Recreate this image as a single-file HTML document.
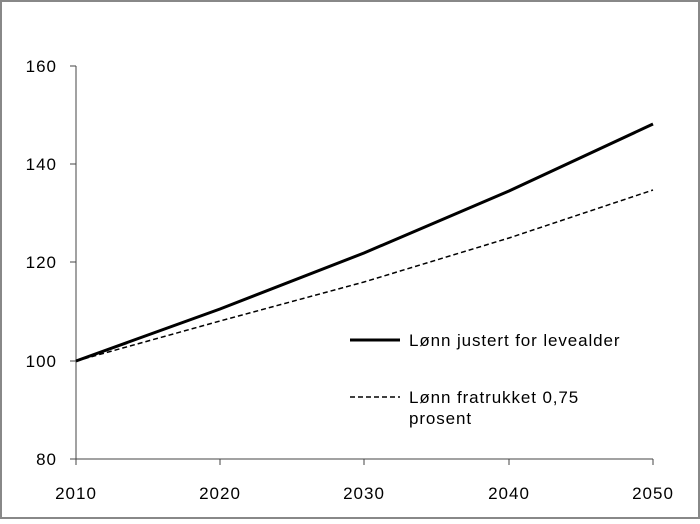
<!DOCTYPE html>
<html><head><style>
html,body{margin:0;padding:0;background:#fff}
body{width:700px;height:519px;overflow:hidden}
</style></head><body>
<svg width="700" height="519" xmlns="http://www.w3.org/2000/svg" font-family="Liberation Sans, sans-serif">
<rect x="1" y="1" width="698" height="517" fill="#fff" stroke="#888" stroke-width="2"/>
<g stroke="#444" stroke-width="1">
<line x1="76" y1="66" x2="76" y2="459"/>
<line x1="76" y1="459" x2="653" y2="459"/>
<line x1="70" y1="66" x2="76" y2="66"/>
<line x1="70" y1="164" x2="76" y2="164"/>
<line x1="70" y1="262" x2="76" y2="262"/>
<line x1="70" y1="361" x2="76" y2="361"/>
<line x1="70" y1="459" x2="76" y2="459"/>
<line x1="76" y1="459" x2="76" y2="465"/>
<line x1="220" y1="459" x2="220" y2="465"/>
<line x1="364" y1="459" x2="364" y2="465"/>
<line x1="509" y1="459" x2="509" y2="465"/>
<line x1="653" y1="459" x2="653" y2="465"/>
</g>
<g font-size="17" fill="#000" text-anchor="end" letter-spacing="1">
<text x="57" y="72">160</text>
<text x="57" y="170">140</text>
<text x="57" y="268">120</text>
<text x="57" y="367">100</text>
<text x="57" y="465">80</text>
</g>
<g font-size="17" fill="#000" text-anchor="middle" letter-spacing="1">
<text x="76" y="499">2010</text>
<text x="220" y="499">2020</text>
<text x="364" y="499">2030</text>
<text x="509" y="499">2040</text>
<text x="653" y="499">2050</text>
</g>
<polyline points="76,361 220,309 364,253 509,191 653,124" fill="none" stroke="#000" stroke-width="3"/>
<polyline points="76,361 220,321 364,282 509,238 653,190" fill="none" stroke="#000" stroke-width="1.5" stroke-dasharray="5,3"/>
<line x1="350" y1="340" x2="400" y2="340" stroke="#000" stroke-width="3"/>
<line x1="350" y1="397" x2="400" y2="397" stroke="#000" stroke-width="1.5" stroke-dasharray="5,3"/>
<g font-size="17" fill="#000" letter-spacing="0.9">
<text x="409" y="346">Lønn justert for levealder</text>
<text x="409" y="403">Lønn fratrukket 0,75</text>
<text x="409" y="424">prosent</text>
</g>
</svg>
</body></html>
